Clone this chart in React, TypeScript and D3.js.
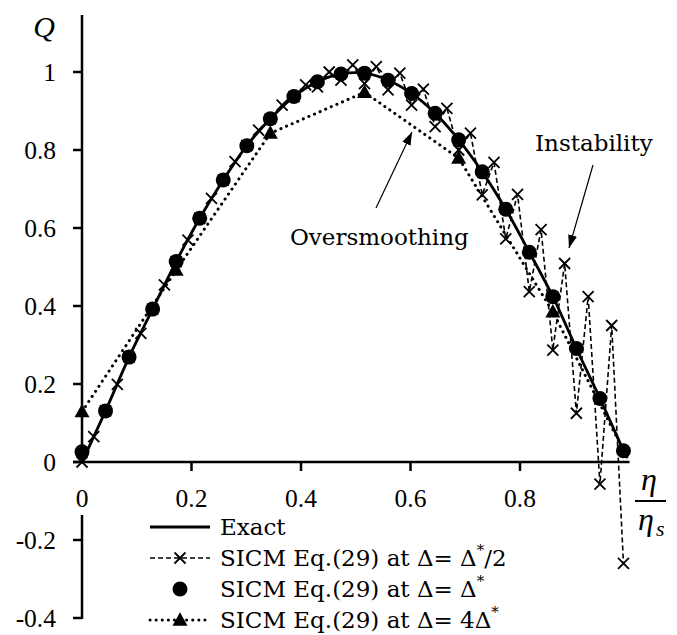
import React from "react";
import * as d3 from "d3";

// ---- data ----
const circX = [0, 0.043, 0.086, 0.129, 0.172, 0.215, 0.258, 0.301, 0.344, 0.387, 0.43, 0.473, 0.516, 0.559, 0.602, 0.645, 0.688, 0.731, 0.774, 0.817, 0.86, 0.903, 0.946, 0.989];
const circQ = [0.026, 0.131, 0.269, 0.392, 0.514, 0.625, 0.723, 0.811, 0.88, 0.937, 0.975, 0.995, 0.997, 0.979, 0.945, 0.894, 0.826, 0.744, 0.648, 0.538, 0.424, 0.291, 0.163, 0.029];

const exactX = [0, 0.043, 0.086, 0.129, 0.172, 0.215, 0.258, 0.301, 0.344, 0.387, 0.43, 0.473, 0.516, 0.559, 0.602, 0.645, 0.688, 0.731, 0.774, 0.817, 0.86, 0.903, 0.946, 0.989];
const exactQ = [0.0, 0.131, 0.269, 0.392, 0.514, 0.625, 0.723, 0.811, 0.88, 0.937, 0.975, 0.995, 0.997, 0.979, 0.945, 0.894, 0.826, 0.744, 0.648, 0.538, 0.424, 0.291, 0.163, 0.029];

const crossX = [0, 0.0215, 0.043, 0.0645, 0.086, 0.1075, 0.129, 0.1505, 0.172, 0.1935, 0.215, 0.2365, 0.258, 0.2795, 0.301, 0.3225, 0.344, 0.3655, 0.387, 0.4085, 0.43, 0.4515, 0.473, 0.4945, 0.516, 0.5375, 0.559, 0.5805, 0.602, 0.6235, 0.645, 0.6665, 0.688, 0.7095, 0.731, 0.7525, 0.774, 0.7955, 0.817, 0.8385, 0.86, 0.8815, 0.903, 0.9245, 0.946, 0.9675, 0.989];
const crossQ = [0.0, 0.065, 0.131, 0.199, 0.269, 0.33, 0.392, 0.454, 0.514, 0.569, 0.625, 0.676, 0.723, 0.77, 0.811, 0.851, 0.88, 0.915, 0.937, 0.967, 0.962, 1.0, 0.979, 1.018, 0.97, 1.014, 0.954, 0.997, 0.915, 0.956, 0.86, 0.907, 0.8, 0.843, 0.685, 0.768, 0.572, 0.686, 0.437, 0.596, 0.287, 0.509, 0.125, 0.424, -0.057, 0.35, -0.26];

const triX = [0, 0.172, 0.344, 0.516, 0.688, 0.86, 1.0];
const triQ = [0.129, 0.492, 0.843, 0.948, 0.779, 0.385, 0.0];
const triMarked = [true, true, true, true, true, true, false];

const yTicks = [-0.4, -0.2, 0, 0.2, 0.4, 0.6, 0.8, 1];
const yTickLabels = ["-0.4", "-0.2", "0", "0.2", "0.4", "0.6", "0.8", "1"];
const xTicks = [0, 0.2, 0.4, 0.6, 0.8];
const xTickLabels = ["0", "0.2", "0.4", "0.6", "0.8"];

const legendLabels = ["Exact", "SICM Eq.(29) at Δ= Δ", "SICM Eq.(29) at Δ= Δ", "SICM Eq.(29) at Δ= 4Δ"];
const legendSuffix = ["", "/2", "", ""];

const FONT = "'DejaVu Serif', serif";
const TICKFONT = "'Liberation Serif', serif";

function crossPath(cx: number, cy: number, s: number) {
  return `M${cx - s},${cy - s}L${cx + s},${cy + s}M${cx - s},${cy + s}L${cx + s},${cy - s}`;
}
function triPath(cx: number, cy: number, s: number) {
  return `M${cx},${cy - s * 1.05}L${cx + s},${cy + s * 0.75}L${cx - s},${cy + s * 0.75}Z`;
}

export default function App() {
  const W = 677, H = 635;
  const x = d3.scaleLinear().domain([0, 1]).range([82, 629.5]);
  const y = d3.scaleLinear().domain([0, 1]).range([462, 72]);

  const lineGen = d3.line<[number, number]>().x((d) => x(d[0])).y((d) => y(d[1]));
  const exactPts = exactX.map((v, i) => [v, exactQ[i]] as [number, number]);
  const crossPts = crossX.map((v, i) => [v, crossQ[i]] as [number, number]);
  const triPts = triX.map((v, i) => [v, triQ[i]] as [number, number]);
  const exactLine = d3.line<[number, number]>().x((d) => x(d[0])).y((d) => y(d[1])).curve(d3.curveCatmullRom);

  const axisX = x(0);
  const legendY = [527, 558, 589, 620];

  return (
    <svg width={W} height={H} style={{ position: "absolute", left: 0, top: 0, background: "#fff" }} fontFamily={FONT}>
      <rect x={0} y={0} width={W} height={H} fill="#fff" />
      {/* axes */}
      <line x1={axisX} x2={axisX} y1={y(1.146)} y2={y(0) + 1} stroke="#000" strokeWidth={2.5} />
      <line x1={axisX} x2={axisX} y1={515} y2={y(-0.4) + 1} stroke="#000" strokeWidth={2.5} />
      <line x1={73} x2={x(1)} y1={y(0)} y2={y(0)} stroke="#000" strokeWidth={2.5} />
      {yTicks.map((t) => (
        <line key={"yt" + t} x1={73} x2={axisX} y1={y(t)} y2={y(t)} stroke="#000" strokeWidth={2.5} />
      ))}
      {xTicks.filter((t) => t > 0).map((t) => (
        <line key={"xt" + t} x1={x(t)} x2={x(t)} y1={y(0)} y2={y(0) + 9} stroke="#000" strokeWidth={2.5} />
      ))}
      {yTicks.map((t, i) => (
        <text key={"yl" + t} x={56} y={y(t)} textAnchor="end" dominantBaseline="central" fontSize={25.5} fontFamily={TICKFONT} fill="#000">
          {yTickLabels[i]}
        </text>
      ))}
      {xTicks.map((t, i) => (
        <text key={"xl" + t} x={x(t)} y={507} textAnchor="middle" fontSize={25.5} fontFamily={TICKFONT} fill="#000">
          {xTickLabels[i]}
        </text>
      ))}

      {/* axis titles */}
      <text x={44} y={37} textAnchor="middle" fontSize={30} fontStyle="italic" fontFamily="'Liberation Serif', serif">Q</text>
      <text x={649} y={490} textAnchor="middle" fontSize={32} fontStyle="italic" fontFamily="'Liberation Serif', serif">η</text>
      <line x1={635} x2={666} y1={501} y2={501} stroke="#000" strokeWidth={2} />
      <text x={646} y={530} textAnchor="middle" fontSize={32} fontStyle="italic" fontFamily="'Liberation Serif', serif">η</text>
      <text x={656} y={536} fontSize={22} fontStyle="italic" fontFamily="'Liberation Serif', serif">s</text>

      {/* series lines */}
      <path d={lineGen(triPts) || ""} fill="none" stroke="#000" strokeWidth={3} strokeDasharray="0.1 6" strokeLinecap="round" />
      <path d={lineGen(crossPts) || ""} fill="none" stroke="#000" strokeWidth={1.6} strokeDasharray="5 3" />
      <path d={exactLine(exactPts) || ""} fill="none" stroke="#000" strokeWidth={2.8} />

      {/* markers */}
      {triPts.map((d, i) => triMarked[i] ? (
        <path key={"tr" + i} d={triPath(x(d[0]), y(d[1]), 7.5)} fill="#000" />
      ) : null)}
      {circX.map((v, i) => (
        <circle key={"c" + i} cx={x(v)} cy={y(circQ[i])} r={7.5} fill="#000" />
      ))}
      {crossPts.map((d, i) => (
        <path key={"x" + i} d={crossPath(x(d[0]), y(d[1]), 5.5)} stroke="#000" strokeWidth={1.8} fill="none" />
      ))}

      {/* annotations */}
      <text x={290} y={245} fontSize={23} fill="#000">Oversmoothing</text>
      <text x={535} y={151} fontSize={23} fill="#000">Instability</text>
      <defs>
        <marker id="arr" viewBox="0 0 10 10" refX={10} refY={5} markerWidth={13} markerHeight={13} markerUnits="userSpaceOnUse" orient="auto">
          <path d="M0,1.5L10,5L0,8.5Z" fill="#000" />
        </marker>
      </defs>
      <line x1={376} y1={208} x2={412} y2={132} stroke="#000" strokeWidth={1.2} markerEnd="url(#arr)" />
      <line x1={593} y1={165} x2={569} y2={248} stroke="#000" strokeWidth={1.2} markerEnd="url(#arr)" />

      {/* legend */}
      <line x1={150} x2={210} y1={legendY[0]} y2={legendY[0]} stroke="#000" strokeWidth={2.8} />
      <line x1={150} x2={210} y1={legendY[1]} y2={legendY[1]} stroke="#000" strokeWidth={1.6} strokeDasharray="5 3" />
      <path d={crossPath(180, legendY[1], 5.5)} stroke="#000" strokeWidth={1.8} />
      <circle cx={180} cy={legendY[2]} r={7.5} fill="#000" />
      <line x1={150} x2={210} y1={legendY[3]} y2={legendY[3]} stroke="#000" strokeWidth={3} strokeDasharray="0.1 6" strokeLinecap="round" />
      <path d={triPath(180, legendY[3], 7.5)} fill="#000" />
      {legendLabels.map((l, i) => (
        <text key={"lg" + i} x={220} y={legendY[i]} dominantBaseline="central" fontSize={23} fill="#000">
          {l}
          {i > 0 ? <tspan dy={-8} fontSize={15}>*</tspan> : null}
          {i > 0 ? <tspan dy={8}>{legendSuffix[i]}</tspan> : null}
        </text>
      ))}
    </svg>
  );
}
